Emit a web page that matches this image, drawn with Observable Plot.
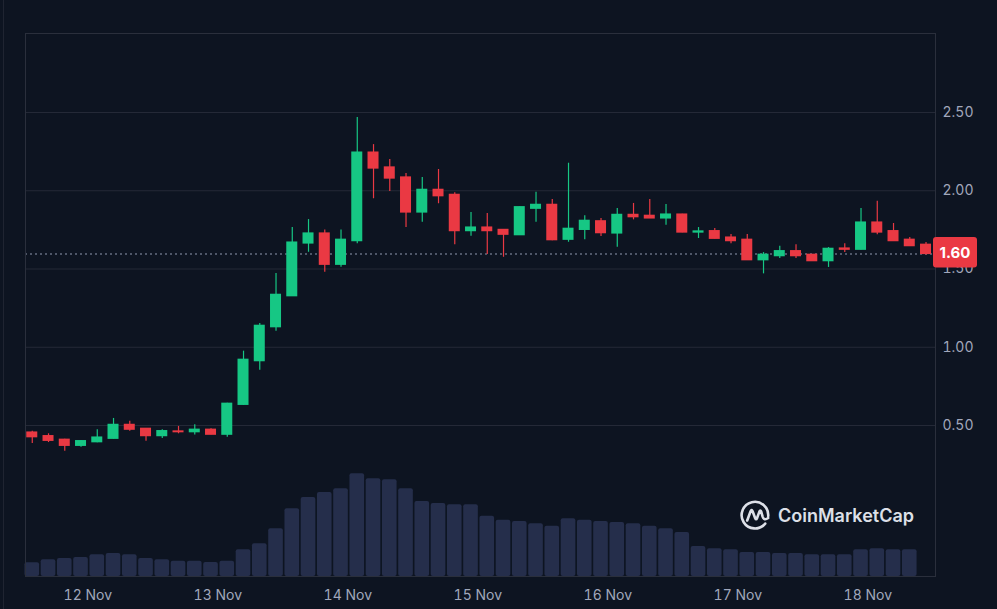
<!DOCTYPE html>
<html>
<head>
<meta charset="utf-8">
<script src="https://cdn.jsdelivr.net/npm/d3@7"></script>
<script src="https://cdn.jsdelivr.net/npm/@observablehq/plot@0.6"></script>
<style>
  html, body { margin: 0; padding: 0; background: #0d1421; }
  #wrap { position: relative; width: 997px; height: 609px; overflow: hidden; background: #0d1421; }
  #wrap svg.layer { position: absolute; left: 0; top: 0; }
  #edge { position: absolute; left: 3px; top: 0; width: 1px; height: 609px; background: #1f2431; }
  #wm { position: absolute; left: 739px; top: 499px; display: flex; align-items: center; gap: 7px; pointer-events: none; }
  #wm span { font-family: Inter, "Noto Sans", sans-serif; font-weight: 600; font-size: 18px; color: #dde0e8; }
</style>
</head>
<body>
<div id="wrap"><div id="edge"></div></div>
<script>
// ---- data (3-hour candles) ----
const startTime = "2024-11-11T13:45:00Z";
const stepHours = 3;
const open  = [0.455,0.432,0.409,0.370,0.393,0.415,0.504,0.479,0.432,0.462,0.457,0.473,0.441,0.632,0.911,1.128,1.326,1.663,1.727,1.527,
               1.678,2.244,2.149,2.085,1.861,2.006,1.974,1.742,1.765,1.750,1.716,1.885,1.910,1.687,1.750,1.805,1.727,1.846,1.840,1.823,
               1.848,1.733,1.742,1.701,1.687,1.556,1.582,1.614,1.591,1.550,1.631,1.623,1.797,1.742,1.687,1.655];
const high  = [0.464,0.447,0.412,0.402,0.473,0.545,0.527,0.481,0.473,0.494,0.505,0.479,0.642,0.975,1.152,1.471,1.765,1.816,1.750,1.750,
               2.468,2.295,2.200,2.110,2.085,2.136,1.987,1.861,1.855,1.752,1.897,1.991,1.944,2.176,1.840,1.823,1.887,1.919,1.944,1.912,
               1.850,1.765,1.759,1.720,1.720,1.605,1.646,1.655,1.592,1.637,1.661,1.887,1.933,1.791,1.701,1.669];
const low   = [0.385,0.391,0.336,0.361,0.390,0.413,0.464,0.400,0.417,0.447,0.440,0.441,0.425,0.628,0.853,1.103,1.324,1.607,1.480,1.511,
               1.661,1.949,1.995,1.765,1.799,1.917,1.655,1.710,1.593,1.575,1.714,1.799,1.680,1.671,1.687,1.708,1.639,1.814,1.822,1.780,
               1.731,1.695,1.692,1.661,1.555,1.469,1.567,1.567,1.549,1.510,1.605,1.621,1.719,1.677,1.645,1.590];
const close = [0.425,0.402,0.370,0.400,0.423,0.504,0.473,0.432,0.464,0.457,0.473,0.441,0.639,0.920,1.137,1.335,1.669,1.727,1.527,1.687,
               2.244,2.142,2.078,1.861,2.006,1.965,1.742,1.765,1.742,1.719,1.895,1.910,1.684,1.757,1.808,1.729,1.846,1.831,1.823,1.848,
               1.733,1.740,1.693,1.678,1.556,1.591,1.614,1.582,1.550,1.629,1.623,1.797,1.733,1.678,1.646,1.596];
// relative volume per candle (latest candle has no bar yet)
const volume = [13.7,16.7,18,19,21.7,23,21.7,18,16.7,15.3,15.3,14,15.3,26.7,32.7,47.7,67.7,79,84,87.7,
                102.7,97.7,96.7,87.7,75,73,71.7,71.7,60.3,56.3,55,52.7,50.3,57.7,56.3,55,54,52.7,50.3,47.7,
                44,30,27.7,26.7,24,24,23,23,21.7,21.7,21.7,26.7,27.7,26.7,26.7];
const dayTicks = ["2024-11-12","2024-11-13","2024-11-14","2024-11-15","2024-11-16","2024-11-17","2024-11-18"];
const priceTicks = [0.5, 1.0, 1.5, 2.0, 2.5];

// ---- scale setup ----
const xDomain = [new Date("2024-11-11T12:30:00Z"), new Date("2024-11-18T12:30:00Z")];
const yDomain = [-0.465, 3.005];
const volDomain = [0, 543];
const GREEN = "#16c784", RED = "#ea3943";
const H = 3600e3;
const t0 = Date.parse(startTime);

const candles = open.map((o, i) => ({
  t: new Date(t0 + i * stepHours * H),
  open: o, high: high[i], low: low[i], close: close[i],
  volume: i < volume.length ? volume[i] : null
}));
const ups = candles.filter(d => d.close >= d.open);
const downs = candles.filter(d => d.close < d.open);
const lastClose = close[close.length - 1];

const common = {
  width: 997, height: 609,
  marginLeft: 25, marginRight: 62, marginTop: 33, marginBottom: 33
};
const wrap = document.getElementById("wrap");

// volume layer
const volPlot = Plot.plot({
  ...common,
  style: { background: "transparent" },
  x: { type: "utc", domain: xDomain, axis: null },
  y: { domain: volDomain, axis: null },
  marks: [
    Plot.rectY(candles.filter(d => d.volume != null), {
      x1: d => new Date(+d.t - 81 * 60e3),
      x2: d => new Date(+d.t + 81 * 60e3),
      y: "volume", fill: "#252e4b", rx: 2
    })
  ]
});
volPlot.classList.add("layer");
wrap.appendChild(volPlot);

// price layer
const bodyX1 = d => new Date(+d.t - 61 * 60e3);
const bodyX2 = d => new Date(+d.t + 61 * 60e3);
const pricePlot = Plot.plot({
  ...common,
  style: { background: "transparent", fontFamily: "Inter, 'Noto Sans', sans-serif", fontSize: "14px", color: "#a1a7bb" },
  x: { type: "utc", domain: xDomain, ticks: dayTicks.map(d => new Date(d + "T00:00:00Z")),
       tickFormat: d3.utcFormat("%-d %b"), tickSize: 0, tickPadding: 14, label: null },
  y: { domain: yDomain, axis: "right", ticks: priceTicks, tickFormat: d3.format(".2f"),
       tickSize: 0, tickPadding: 7, label: null },
  marks: [
    Plot.ruleY(priceTicks, { stroke: "#242937", strokeWidth: 1.2 }),
    Plot.ruleY([lastClose], { stroke: "#646c80", strokeDasharray: "2,3", strokeWidth: 1.6 }),
    Plot.ruleX(ups, { x: "t", y1: "low", y2: "high", stroke: GREEN, strokeWidth: 1.2 }),
    Plot.ruleX(downs, { x: "t", y1: "low", y2: "high", stroke: RED, strokeWidth: 1.2 }),
    Plot.rect(ups, { x1: bodyX1, x2: bodyX2, y1: "open", y2: "close", fill: GREEN, insetTop: -0.6, insetBottom: -0.6 }),
    Plot.rect(downs, { x1: bodyX1, x2: bodyX2, y1: "open", y2: "close", fill: RED, insetTop: -0.6, insetBottom: -0.6 }),
    Plot.frame({ stroke: "#2a2f3c" })
  ]
});
pricePlot.classList.add("layer");
wrap.appendChild(pricePlot);

// current price badge, positioned through the plot's scales
const yPos = pricePlot.scale("y").apply(lastClose);
const xRight = pricePlot.scale("x").range[1];
const badge = d3.select(pricePlot).append("g");
badge.append("rect")
  .attr("x", xRight - 2).attr("y", yPos - 16.5)
  .attr("width", 44).attr("height", 30.5).attr("rx", 3)
  .attr("fill", RED);
badge.append("text")
  .attr("x", xRight + 20).attr("y", yPos - 1.2)
  .attr("text-anchor", "middle").attr("dominant-baseline", "central")
  .attr("fill", "#ffffff").attr("font-weight", 700).attr("font-size", "15px")
  .attr("font-family", "Inter, 'Noto Sans', sans-serif")
  .text(d3.format(".2f")(lastClose));

// watermark
const wm = document.createElement("div");
wm.id = "wm";
wm.innerHTML = `<svg width="32" height="32" viewBox="0 0 32 32" fill="none" stroke="#dde0e8" stroke-width="2.6" stroke-linecap="round" stroke-linejoin="round">
  <path d="M26.2 24.6 A13.3 13.3 0 1 1 29.2 17.2"/>
  <path d="M8.2 21.5 L11.6 12.2 Q12.6 9.8 13.6 12.2 L16.2 19.2 Q17.1 21.3 18 19.2 L20.4 12.6 Q21.3 10.4 22.2 12.6 L23.6 17.6 Q25 22 29.2 19"/>
</svg><span>CoinMarketCap</span>`;
wrap.appendChild(wm);
</script>
</body>
</html>
